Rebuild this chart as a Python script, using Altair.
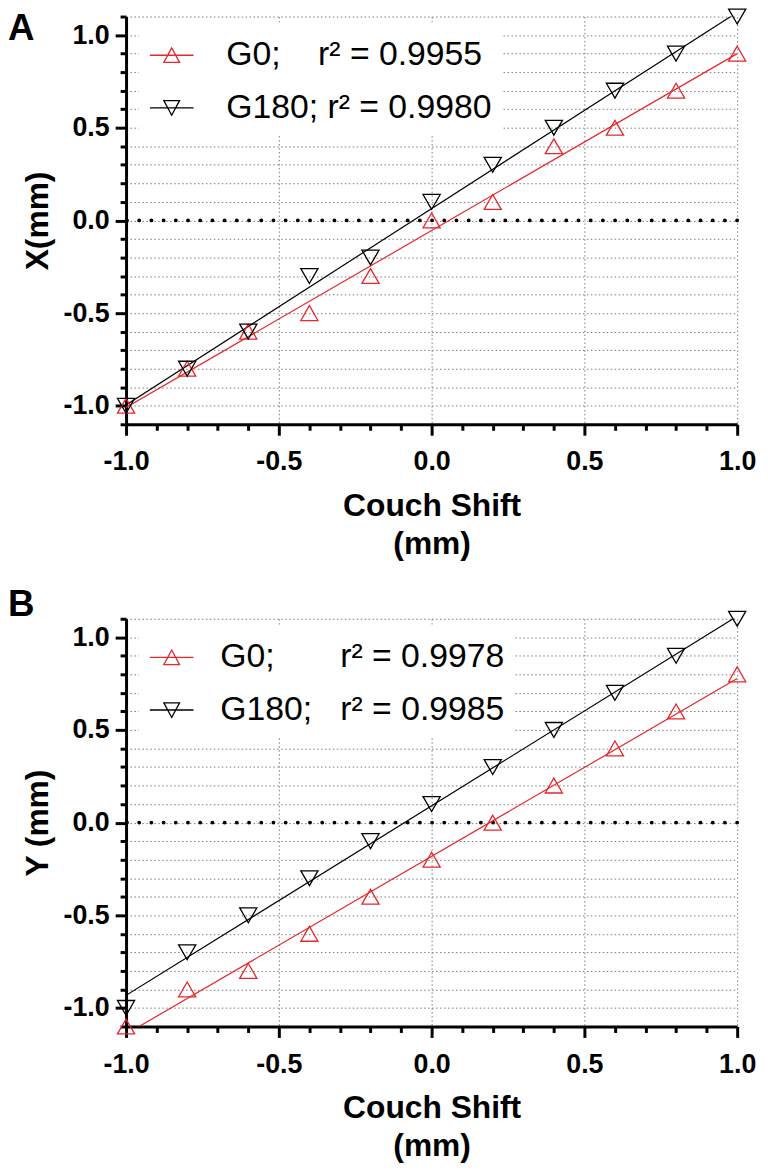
import altair as alt
import pandas as pd

# ---------------- data ----------------
shift = [-1.0, -0.8, -0.6, -0.4, -0.2, 0.0, 0.2, 0.4, 0.6, 0.8, 1.0]
x_g0 = [-1.0, -0.8, -0.6, -0.5, -0.3, 0.0, 0.1, 0.4, 0.5, 0.7, 0.9]
x_g180 = [-1.0, -0.8, -0.6, -0.3, -0.2, 0.1, 0.3, 0.5, 0.7, 0.9, 1.1]
y_g0 = [-1.1, -0.9, -0.8, -0.6, -0.4, -0.2, 0.0, 0.2, 0.4, 0.6, 0.8]
y_g180 = [-1.0, -0.7, -0.5, -0.3, -0.1, 0.1, 0.3, 0.5, 0.7, 0.9, 1.1]

NB = "\u00a0"
x_labels = [NB + "G0;" + NB * 4 + "r² = 0.9955", "G180;" + NB + "r² = 0.9980"]
y_labels = ["G0;" + NB * 7 + "r² = 0.9978", "G180;" + NB * 3 + "r² = 0.9985"]

x_ticks = [round(-1.0 + 0.1 * i, 1) for i in range(21)]
y_ticks = [round(-1.1 + 0.1 * i, 1) for i in range(23)]
zero_line = [0.0]
panel_letters = ["A", "B"]

# ---------------- styles ----------------
FONT = "Liberation Sans, Arial, Helvetica, sans-serif"
RED = "#e8262b"
UP_PATH = "M-1,0H1M-0.36,0.33L0.36,0.33L0,-0.34Z"
DOWN_PATH = "M-1,0H1M-0.36,-0.33L0.36,-0.33L0,0.34Z"

MAJOR = "abs(datum.value*2 - round(datum.value*2)) < 0.01"
LBL = ("(" + MAJOR + ") ? ((datum.value < -0.001 ? '-' : '') + "
       "format(abs(datum.value), '.1f')) : ''")
TICKDASH = {"condition": {"test": MAJOR, "value": []}, "value": [6, 40]}
LABELSIZE = {"condition": {"test": MAJOR, "value": 27}, "value": 0}


def x_axis():
    return alt.Axis(
        values=x_ticks, labelExpr=LBL, title=["Couch Shift", "(mm)"],
        tickDash=TICKDASH, labelFontSize=LABELSIZE,
        grid=True,
        gridOpacity={"condition": {"test": MAJOR, "value": 1}, "value": 0},
        tickSize=11, labelPadding=14, titlePadding=16, titleLineHeight=38,
        labelFlush=False, labelOverlap=False,
    )


def y_axis(title):
    return alt.Axis(
        values=y_ticks, labelExpr=LBL, title=title,
        tickDash=TICKDASH, labelFontSize=LABELSIZE, grid=True,
        tickSize=11, labelPadding=6, titlePadding=9,
        labelFlush=False, labelOverlap=False,
    )


def panel(g0, g180, labels, letter, ytitle, letter_y, label_offset):
    df = pd.DataFrame({
        "x": shift + shift,
        "y": g0 + g180,
        "k": ["G0"] * len(shift) + ["G180"] * len(shift),
        "s": [labels[0]] * len(shift) + [labels[1]] * len(shift),
    })
    xenc = alt.X("x:Q", scale=alt.Scale(domain=[-1, 1], nice=False, zero=False),
                 axis=x_axis())
    yenc = alt.Y("y:Q", scale=alt.Scale(domain=[-1.1, 1.1], nice=False, zero=False),
                 axis=y_axis(ytitle))
    base = alt.Chart(df)

    zero = alt.Chart(pd.DataFrame({"y": zero_line})).mark_rule(
        color="black", strokeWidth=3.8, strokeDash=[0.1, 12.2], strokeCap="round"
    ).encode(y=yenc)

    def fit(key, color):
        return base.transform_filter(alt.datum.k == key).transform_regression(
            "x", "y", extent=[-1, 1]
        ).mark_line(color=color, strokeWidth=1.2, clip=True).encode(x=xenc, y=yenc)

    def pts(key, color, shape):
        return base.transform_filter(alt.datum.k == key).mark_point(
            shape=shape, filled=False, size=300, strokeWidth=1.3, color=color, opacity=1
        ).encode(x=xenc, y=yenc)

    leg = alt.Legend(
        title=None, orient="none", legendX=13, legendY=6, direction="vertical",
        fillColor="white", padding=10, rowPadding=13, symbolSize=1936,
        symbolStrokeWidth=1.3, symbolOpacity=1, labelFont=FONT, labelFontSize=34,
        labelFontWeight="normal", labelColor="black", labelLimit=600,
        labelOffset=label_offset,
    )
    legend_layer = base.mark_point(filled=False, opacity=0).encode(
        x=xenc, y=yenc,
        color=alt.Color("s:N", scale=alt.Scale(domain=labels, range=[RED, "black"]),
                        legend=leg),
        shape=alt.Shape("s:N", scale=alt.Scale(domain=labels, range=[UP_PATH, DOWN_PATH]),
                        legend=leg),
    )

    letter_mark = alt.Chart(pd.DataFrame({"panel": [letter]})).mark_text(
        font=FONT, fontSize=37, fontWeight="bold", color="black",
        align="left", baseline="alphabetic",
    ).encode(text="panel:N", x=alt.value(-119), y=alt.value(letter_y))

    return alt.layer(
        zero,
        fit("G0", RED), fit("G180", "black"),
        pts("G0", RED, "triangle-up"), pts("G180", "black", "triangle-down"),
        legend_layer, letter_mark,
    ).properties(width=616, height=411)


panel_a = panel(x_g0, x_g180, x_labels, panel_letters[0], "X(mm)", 24, 32)
panel_b = panel(y_g0, y_g180, y_labels, panel_letters[1], "Y (mm)", -3, 26)

chart = alt.vconcat(panel_a, panel_b, spacing=27).resolve_scale(
    color="independent", shape="independent"
).resolve_legend(
    color="independent", shape="independent"
).properties(
    padding={"left": 0, "top": -7, "right": 4, "bottom": 0}
).configure_view(stroke=None).configure_axis(
    domainColor="black", domainWidth=3, tickColor="black", tickWidth=3,
    gridColor="#7a7a7a", gridDash=[1.5, 2.5], gridWidth=1,
    labelFont=FONT, labelFontWeight="bold", labelColor="black",
    titleFont=FONT, titleFontSize=32, titleFontWeight="bold", titleColor="black",
)

chart.save("out.html", embed_options={"renderer": "svg", "actions": False})
